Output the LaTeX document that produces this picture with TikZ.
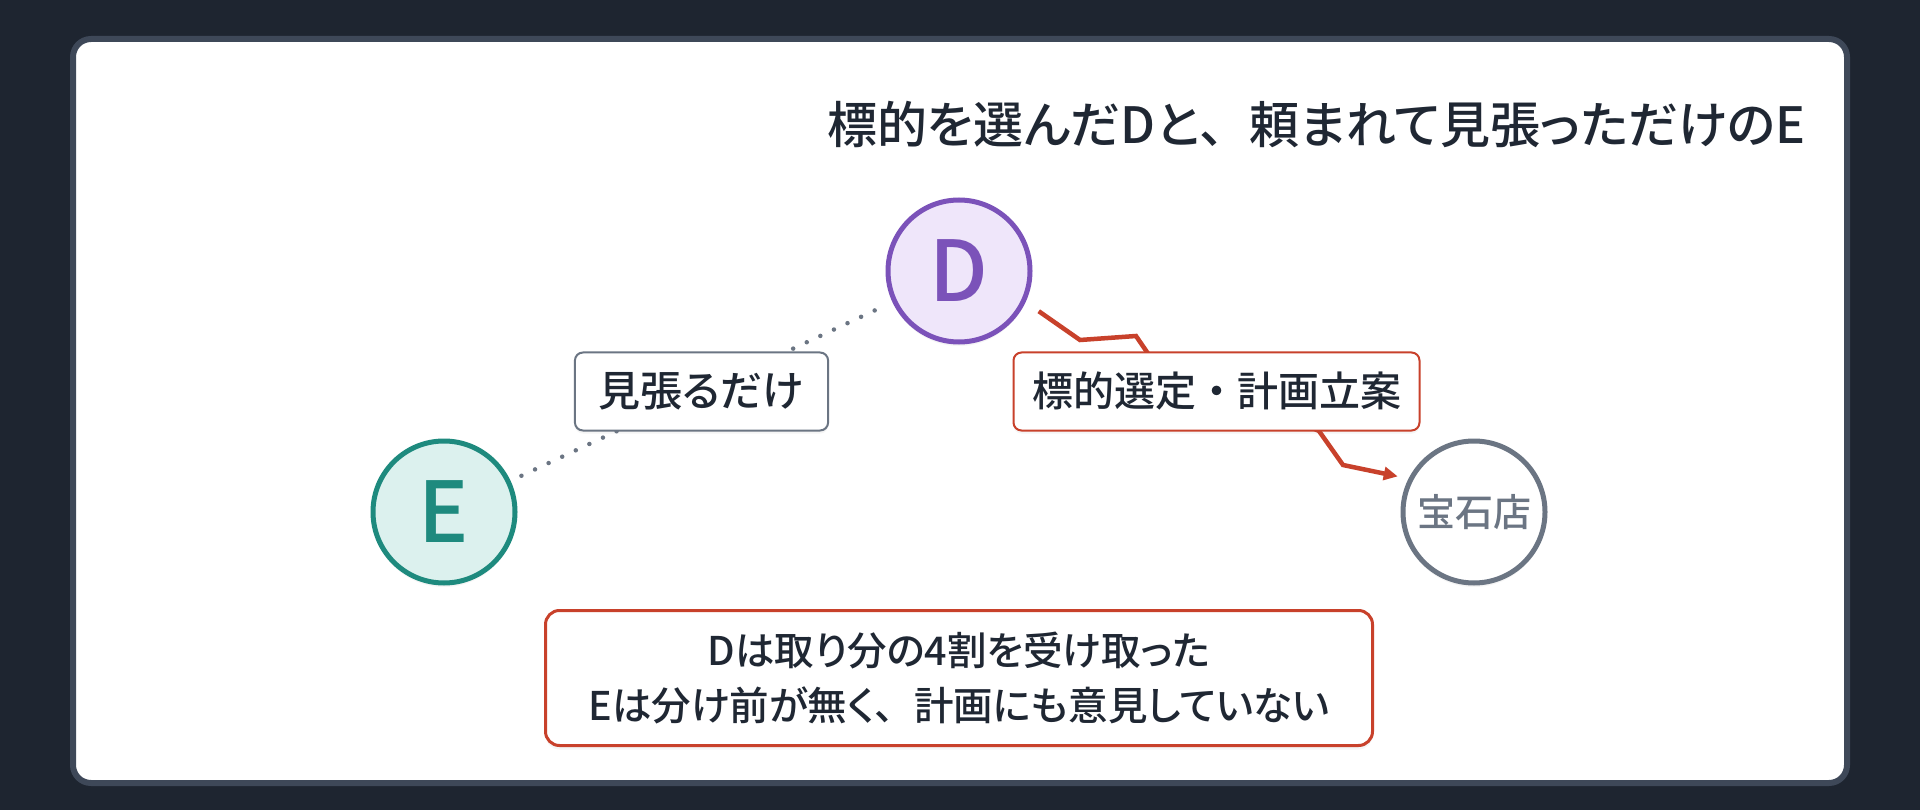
\documentclass[tikz,border=0pt]{standalone}
\usepackage{fontspec}
\setmainfont{Noto Sans CJK JP Medium}[RawFeature=+palt]
\usetikzlibrary{arrows.meta,shadows}
\definecolor{bgdark}{HTML}{1E2530}
\definecolor{panelline}{HTML}{3E4858}
\definecolor{inkdark}{HTML}{1F2733}
\definecolor{purpleD}{HTML}{7B52B9}
\definecolor{lilacD}{HTML}{EFE6FA}
\definecolor{tealE}{HTML}{1E8A7E}
\definecolor{mintE}{HTML}{DCF1EE}
\definecolor{slategray}{HTML}{6B7583}
\definecolor{planred}{HTML}{C8412B}
% full-width punctuation
\newcommand{\fwcomma}{\makebox[1em][l]{、}}
\newcommand{\fwdot}{\makebox[1em]{・}}

\begin{document}
\begin{tikzpicture}[x=1pt,y=-1pt]
%define
\tikzstyle{person_d} = [circle, minimum size=142, line width=5, draw=purpleD, fill=lilacD, text=purpleD, font=\fontsize{84}{84}\selectfont, drop shadow={opacity=0.08, shadow xshift=0pt, shadow yshift=-4pt}]
\tikzstyle{person_e} = [circle, minimum size=142, line width=5, draw=tealE, fill=mintE, text=tealE, font=\fontsize{84}{84}\selectfont, drop shadow={opacity=0.08, shadow xshift=0pt, shadow yshift=-4pt}]
\tikzstyle{place_s} = [circle, minimum size=142, line width=5, draw=slategray, fill=white, text=slategray, font=\fontsize{38}{38}\selectfont, drop shadow={opacity=0.08, shadow xshift=0pt, shadow yshift=-4pt}]
\tikzstyle{label_w} = [rectangle, rounded corners=8, solid, line width=2, draw=slategray, fill=white, text=inkdark, inner xsep=24, minimum height=78, font=\fontsize{42}{42}\selectfont, drop shadow={opacity=0.08, shadow xshift=0pt, shadow yshift=-3pt}]
\tikzstyle{label_p} = [rectangle, rounded corners=8, solid, line width=2, draw=planred, fill=white, text=inkdark, minimum width=406, minimum height=78, font=\fontsize{41}{41}\selectfont, drop shadow={opacity=0.08, shadow xshift=0pt, shadow yshift=-3pt}]
\tikzstyle{note_box} = [rectangle, rounded corners=14, line width=3, draw=planred, fill=white, text=inkdark, minimum width=827, minimum height=135, align=center, font=\fontsize{39.5}{55}\selectfont, drop shadow={opacity=0.08, shadow xshift=0pt, shadow yshift=-4pt}]
\tikzstyle{watch_line} = [slategray, line width=4.5, line cap=round, dash pattern=on 0pt off 15pt, shorten <=12pt, shorten >=12pt]
\tikzstyle{plan_line} = [-{Triangle[length=14pt,width=13pt]}, planred, line width=4.5, shorten <=16pt, shorten >=11pt]

%background
\useasboundingbox (0,0) rectangle (1920,810);
\fill[bgdark] (0,0) rectangle (1920,810);
\filldraw[fill=white, draw=panelline, line width=6, rounded corners=18](73,39)rectangle(1847,783);

%title
\node[anchor=east, inner sep=0, text=inkdark, font=\fontsize{50}{50}\selectfont](title_Main) at (1806,125){標的を選んだDと\fwcomma 頼まれて見張っただけのE};

\node[person_d](person_D) at (959,271){D};
\node[person_e](person_E) at (444,512){E};
\node[place_s](place_Shop) at (1474,512){宝石店};

%line
\draw[watch_line](person_E)--(person_D) node[midway, label_w](label_Watch){見張るだけ};
\draw[plan_line](person_D.-25)--(1080,340)--(1136,336)--(1149,355)--(1319,431)--(1343,465)--(place_Shop.153);
\path(person_D)--(place_Shop) node[midway, label_p](label_Plan){標的選定\fwdot 計画立案};

%note
\node[note_box](note_Share) at (959,678){Dは取り分の4割を受け取った\\Eは分け前が無く\fwcomma 計画にも意見していない};

\end{tikzpicture}
\end{document}
